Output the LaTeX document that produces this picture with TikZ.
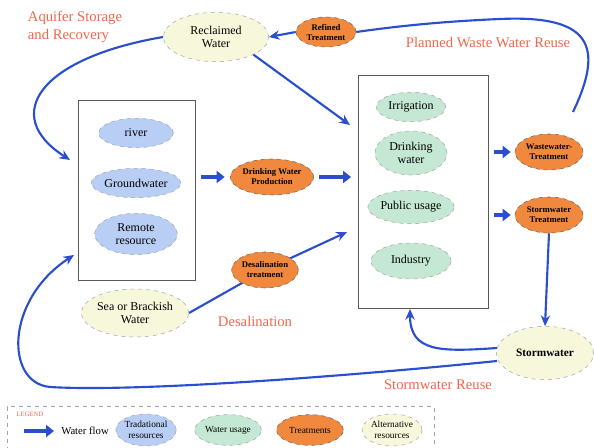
\documentclass[tikz,border=0pt]{standalone}
\usepackage{fontspec}
\setmainfont{Liberation Serif}
\usetikzlibrary{shapes.geometric,arrows.meta,backgrounds}
\definecolor{flow}{RGB}{42,78,204}
\definecolor{tradfill}{RGB}{184,206,244}
\definecolor{usefill}{RGB}{197,232,212}
\definecolor{treatfill}{RGB}{240,136,62}
\definecolor{altfill}{RGB}{247,247,220}
\definecolor{lbl}{RGB}{242,102,74}
\tikzset{
  ell/.style={ellipse, draw=gray!70, dashed, inner sep=0pt, align=center, font=\fontsize{9}{10}\selectfont},
  trad/.style={ell, fill=tradfill},
  use/.style={ell, fill=usefill},
  treat/.style={ell, fill=treatfill, draw=gray!80!black, font=\fontsize{6.5}{7.5}\selectfont\bfseries},
  alt/.style={ell, fill=altfill},
  conn/.style={flow, line width=1.6pt, -{Stealth[length=8pt,width=7pt]}},
  plain/.style={flow, line width=1.6pt},
  block/.style={flow, line width=3pt, -{Triangle[width=9pt,length=6pt]}},
  note/.style={text=lbl, font=\fontsize{11}{13}\selectfont, align=left}
}
\begin{document}
\begin{tikzpicture}[x=0.75pt,y=-0.75pt]
\useasboundingbox (0,0) rectangle (594,448);
% group boxes
\node[draw=gray!70!black, minimum width=87.75pt, minimum height=135pt] (lbox) at (136.5,190) {};
\node[draw=gray!70!black, minimum width=97.5pt, minimum height=175pt] (rbox) at (423,191.5) {};
% alternative resources
\node[alt, minimum width=79pt, minimum height=37pt] (rw) at (216,37) {Reclaimed\\Water};
\node[alt, minimum width=76pt, minimum height=36pt] (sea) at (135,313) {Sea or Brackish\\Water};
\node[alt, minimum width=73pt, minimum height=40pt, font=\fontsize{8.5}{10}\selectfont\bfseries] (sw) at (545,353) {Stormwater};
% treatments
\node[treat, minimum width=45pt, minimum height=22.5pt] (rt) at (326,32) {Refined\\Treatment};
\node[treat, minimum width=60pt, minimum height=27pt] (dwp) at (272,177) {Drinking Water\\Production};
\node[treat, minimum width=50pt, minimum height=27pt] (dt) at (265,270) {Desalination\\treatment};
\node[treat, minimum width=51pt, minimum height=27pt] (wt) at (549,152) {Wastewater-\\Treatment};
\node[treat, minimum width=51pt, minimum height=27pt] (st) at (549,215) {Stormwater\\Treatment};
% traditional resources
\node[trad, minimum width=56pt, minimum height=22pt] (river) at (136,133) {river};
\node[trad, minimum width=62pt, minimum height=22pt] (gw) at (136,183) {Groundwater};
\node[trad, minimum width=62pt, minimum height=31pt] (rr) at (136,234) {Remote\\resource};
% water usage
\node[use, minimum width=52pt, minimum height=22pt] (irr) at (411,107) {Irrigation};
\node[use, minimum width=54pt, minimum height=33pt] (dw) at (411,153) {Drinking\\water};
\node[use, minimum width=63pt, minimum height=25pt] (pu) at (411,207) {Public usage};
\node[use, minimum width=60pt, minimum height=27pt] (ind) at (411,261) {Industry};
% labels
\node[note] (l1) at (75,27) {Aquifer Storage\\and Recovery};
\node[note] (l2) at (488,43) {Planned Waste Water Reuse};
\node[note] (l3) at (255,321) {Desalination};
\node[note] (l4) at (438,385) {Stormwater Reuse};
% free ends
\coordinate (rwEnd) at (350,125);
\coordinate (aqEnd) at (70,160);
\coordinate (desEnd) at (347,232);
\coordinate (swEnd) at (410,309);
\coordinate (swrEnd) at (74,255);
\coordinate (wtTop) at (573,112);
\coordinate (swA) at (497,348);
\coordinate (swB) at (497,361);
% connectors
\begin{scope}[on background layer]
\draw[plain] (wtTop) .. controls (605,45) and (590,15) .. (500,19) .. controls (430,22) and (385,28) .. (rt.east);
\draw[plain] (sea.east) -- (dt.center);
\draw[conn] (dt.center) -- (desEnd);
\end{scope}
\draw[conn] (rt.west) -- (rw.east);
\draw[conn] (rw.south east) -- (rwEnd);
\draw[conn] (rw.west) .. controls (40,58) and (0,115) .. (aqEnd);
\draw[block] ([xshift=4pt]lbox.east |- dwp) -- ([xshift=-4pt]dwp.west);
\draw[block] ([xshift=4pt]dwp.east) -- ([xshift=-5pt]rbox.west |- dwp);
\draw[block] ([xshift=4pt]rbox.east |- wt) -- ([xshift=-3pt]wt.west);
\draw[block] ([xshift=4pt]rbox.east |- st) -- ([xshift=-3pt]st.west);
\draw[conn] (st.south) -- (sw.north);
\draw[conn] (swA) .. controls (440,352) and (410,352) .. (swEnd);
\draw[conn] (swB) .. controls (330,378) and (130,392) .. (50,387) .. controls (5,383) and (5,300) .. (swrEnd);
% legend
\node[draw=gray!70, dashed, minimum width=320pt, minimum height=50pt] (leg) at (220.5,440) {};
\node[text=lbl, font=\fontsize{5}{6}\selectfont] (legt) at (30,414) {LEGEND};
\coordinate (la) at (24,431);
\coordinate (lb) at (54,431);
\draw[block] (la) -- (lb);
\node[font=\fontsize{8}{9}\selectfont] (wf) at (85,431) {Water flow};
\node[trad, minimum width=44pt, minimum height=24pt, font=\fontsize{7}{8}\selectfont] (lg1) at (146,430) {Tradational\\resources};
\node[use, minimum width=50pt, minimum height=23pt, font=\fontsize{7}{8}\selectfont] (lg2) at (228,430) {Water usage};
\node[treat, minimum width=50pt, minimum height=23pt, font=\fontsize{7}{8}\selectfont] (lg3) at (310,430) {Treatments};
\node[alt, minimum width=45pt, minimum height=24pt, font=\fontsize{7}{8}\selectfont] (lg4) at (392,430) {Alternative\\resources};
\end{tikzpicture}
\end{document}
